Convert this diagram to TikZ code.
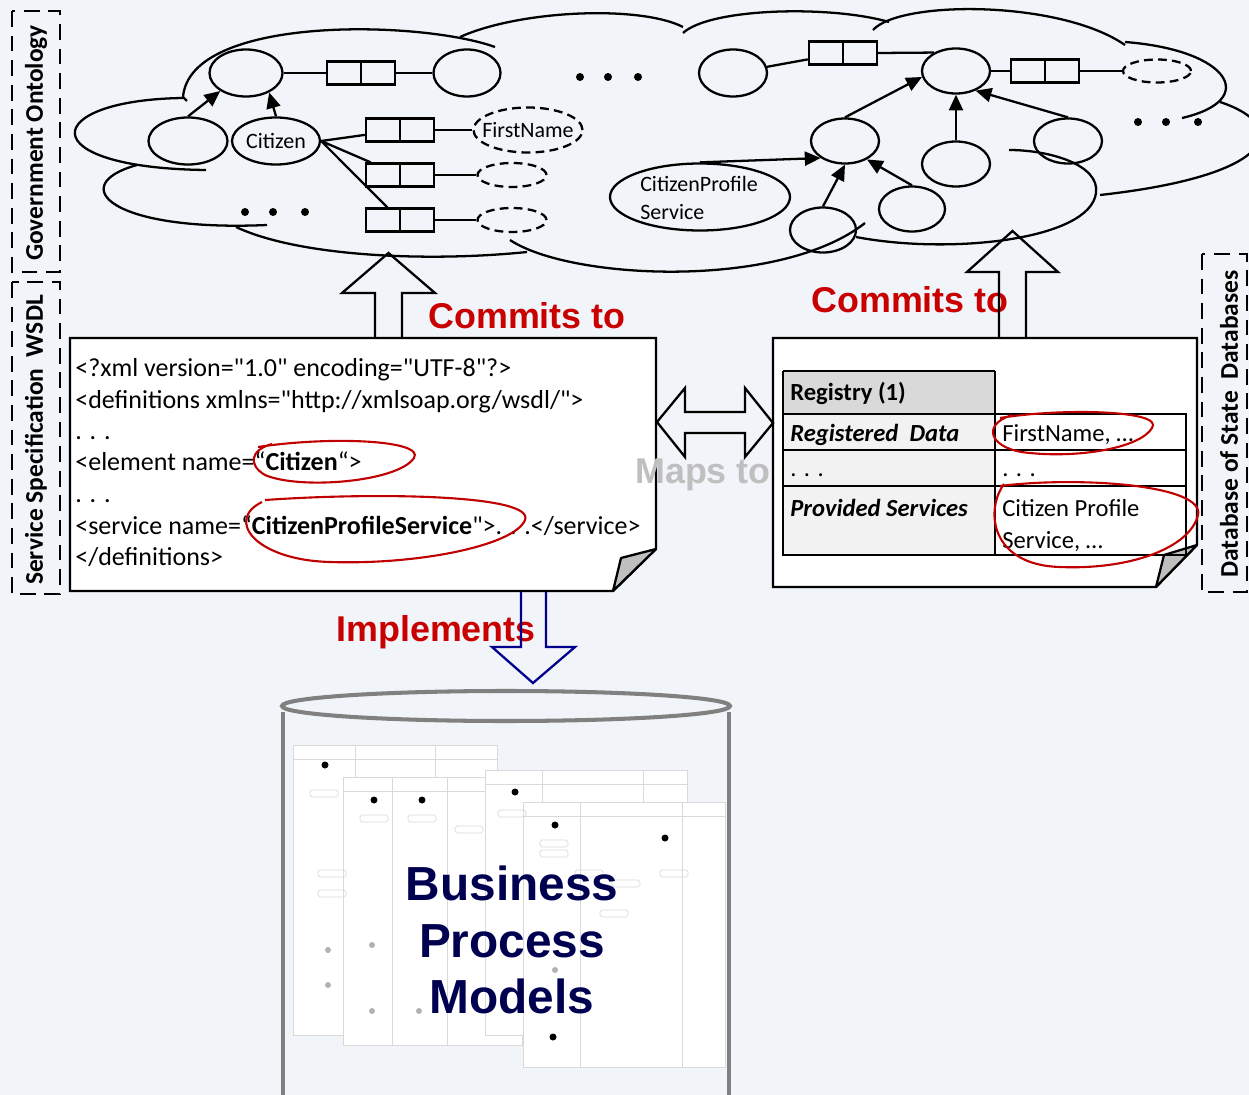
\documentclass[tikz,border=0pt]{standalone}
\usepackage{fontspec}
\setmainfont{Carlito}[Ligatures=TeXOff]
\newfontfamily\arialfont{Liberation Sans}
\usepackage{xcolor}
\usepackage{tikz}
\usetikzlibrary{positioning}
\usetikzlibrary{shapes.geometric, arrows.meta}

\definecolor{bgblue}{RGB}{241,244,248}
\definecolor{markred}{RGB}{192,0,0}
\definecolor{labelred}{RGB}{200,0,0}
\definecolor{implblue}{RGB}{0,0,140}
\definecolor{bpmblue}{RGB}{0,0,80}
\definecolor{mapsgray}{RGB}{191,191,191}

\begin{document}
\begin{tikzpicture}[x=0.02cm, y=-0.02cm,
  line/.style={line width=1.3pt},
  ell/.style 2 args={draw, ellipse, line width=1.3pt, inner sep=0pt,
    minimum width=#1*0.02cm, minimum height=#2*0.02cm},
  dell/.style 2 args={ell={#1}{#2}, dash pattern=on 5pt off 3pt},
  relbox/.style={draw, line width=1.3pt, inner sep=0pt,
    minimum width=1.36cm, minimum height=0.46cm},
  isa/.style={line width=1.3pt, -{Triangle[length=9pt,width=8pt]}},
  cloudtext/.style={inner sep=0pt, font=\fontsize{12.5}{15.9}\selectfont},
  codetext/.style={anchor=base west, inner sep=0pt, font=\fontsize{14.8}{17}\selectfont},
  tabtext/.style={anchor=base west, inner sep=0pt, font=\fontsize{14}{16}\selectfont},
  frame/.style={line width=1.5pt, dash pattern=on 9pt off 5pt},
  sidetext/.style={rotate=90, inner sep=0pt, font=\fontsize{14.5}{16}\selectfont\bfseries},
  bigarrow/.style={line width=1.3pt, line join=miter},
  redtext/.style={inner sep=0pt, text=labelred, font=\arialfont\bfseries\fontsize{20.4}{24}\selectfont},
  redloop/.style={draw=markred, line width=1.2pt},
  doc/.style={line width=1.3pt, fill=white},
  fold/.style={line width=1.3pt, fill=black!25, line join=round},
  cyl/.style={draw=black!50, line width=2.3pt},
  sheet/.style={draw=black!15, line width=0.4pt}]

  \useasboundingbox (0,0) rectangle (1249,1095);
  \fill[bgblue] (0,0) rectangle (1249,1095);
  \clip (0,0) rectangle (1249,1095);

  % side frames
  \draw[frame] (12,11) rectangle (60,272);
  \node[sidetext] (gov_label) at (36,143) {Government Ontology};
  \draw[frame] (12,282) rectangle (60,594);
  \node[sidetext] (wsdl_label) at (36,440) {Service Specification\ \ WSDL};
  \draw[frame] (1202,254) rectangle (1247,592);
  \node[sidetext] (db_label) at (1229,424) {Database of State\ \ Databases};

  % cloud
  \draw[line] (495,47) .. controls (420,20) and (190,15) .. (183,97) -- (187,101);
  \draw[line] (183,98) .. controls (40,100) and (30,168) .. (206,170);
  \draw[line] (137,165) .. controls (65,185) and (110,232) .. (267,225);
  \draw[line] (236,227) .. controls (300,257) and (430,262) .. (527,252);
  \draw[line] (510,240) .. controls (570,280) and (780,290) .. (865,223);
  \draw[line] (856,237) .. controls (950,255) and (1090,240) .. (1096,193)
                        .. controls (1100,165) and (1050,150) .. (1009,150);
  \draw[line] (1220,102) .. controls (1290,125) and (1280,175) .. (1100,195);
  \draw[line] (1125,42) .. controls (1230,50) and (1260,100) .. (1182,118);
  \draw[line] (873,30) .. controls (900,0) and (1060,0) .. (1125,45);
  \draw[line] (683,33) .. controls (710,8) and (830,5) .. (889,22);
  \draw[line] (460,37) .. controls (520,10) and (640,5) .. (683,27);

  \foreach \dx in {580,608,638} \fill (\dx,77) circle[radius=4];
  \foreach \dx in {245,273,305} \fill (\dx,212) circle[radius=4];
  \foreach \dx in {1138,1166,1198} \fill (\dx,122) circle[radius=4];

  % left part of the ontology
  \node[ell={73}{47}] (o1) at (246,73) {};
  \node[ell={67}{47}] (o2) at (467,73) {};
  \node[ell={79}{47}] (o3) at (188,141) {};
  \node[ell={88}{47}] (cit) at (276,141) {};
  \node[cloudtext] (cit_label) at (cit) {Citizen};
  \node[dell={109}{45}] (fn) at (528,130) {};
  \node[cloudtext] (fn_label) at (fn) {FirstName};
  \node[dell={69}{24}] (d1) at (512,175) {};
  \node[dell={69}{24}] (d2) at (512,220) {};
  \node[relbox] (r1) at (361,73) {};
  \node[relbox] (r2) at (400,130) {};
  \node[relbox] (r3) at (400,175) {};
  \node[relbox] (r4) at (400,220) {};

  % right part
  \node[ell={68}{47}] (o4) at (733,73) {};
  \node[relbox] (r5) at (843,53) {};
  \node[ell={68}{45}] (o5) at (956,71) {};
  \node[relbox] (r6) at (1045,71) {};
  \node[dell={68}{23}] (d3) at (1157,71) {};
  \node[ell={68}{45}] (o6) at (845,141) {};
  \node[ell={68}{45}] (o7) at (956,164) {};
  \node[ell={68}{45}] (o8) at (1068,141) {};
  \node[ell={180}{67}] (cps) at (700,197) {};
  \node[cloudtext, align=left] (cps_label) at (699,198) {CitizenProfile\\Service};
  \node[ell={66}{45}] (o9) at (912,209) {};
  \node[ell={66}{45}] (o10) at (823,230) {};

  \foreach \r in {r1,r2,r3,r4,r5,r6}
    \draw[line] (\r.north) -- (\r.south);

  \draw[line] (o1) -- (r1) -- (o2);
  \foreach \r/\e in {r2/fn, r3/d1, r4/d2} {
    \draw[line] (cit.east) -- (\r);
    \draw[line] (\r) -- (\e);
  }
  \draw[line] (o4) -- (r5);
  \draw[line] (r5.east) -- (o5.140);
  \draw[line] (o5) -- (r6) -- (d3);

  \draw[isa] (o3.north) -- (o1.215);
  \draw[isa] (cit.north) -- (o1.320);
  \draw[isa] (o6.north) -- (o5.190);
  \draw[isa] (o7.north) -- (o5.south);
  \draw[isa] (o8.north) -- (o5.315);
  \draw[isa] (cps.north) -- (o6.215);
  \draw[isa] (o9.north) -- (o6.320);
  \draw[isa] (o10.north) -- (o6.south);

  % wsdl document
  \draw[doc] (70,338) -- (656,338) -- (656,549) -- (613,591) -- (70,591) -- cycle;
  \draw[fold] (656,549) -- (621,558) -- (613,591) -- cycle;
  \node[codetext] (xml_1) at (75,377) {<?xml version="1.0" encoding="UTF-8"?>};
  \node[codetext] (xml_2) at (75,408) {<definitions xmlns="http://xmlsoap.org/wsdl/">};
  \node[codetext] (xml_3) at (75,439) {. . .};
  \node[codetext] (xml_4) at (75,470) {<element name=“\textbf{Citizen}“>};
  \node[codetext] (xml_5) at (75,502) {. . .};
  \node[codetext] (xml_6) at (75,534) {<service name=“\textbf{CitizenProfileService}">. . .</service>};
  \node[codetext] (xml_7) at (75,565) {</definitions>};

  \draw[redloop] (258,447) .. controls (330,436) and (425,440) .. (414,458)
                 .. controls (398,482) and (300,490) .. (265,475)
                 .. controls (248,465) and (250,450) .. (272,444);
  \draw[redloop] (265,500) .. controls (380,492) and (535,495) .. (525,520)
                 .. controls (515,545) and (420,565) .. (330,562)
                 .. controls (255,560) and (225,520) .. (262,502);

  % registry document
  \draw[doc] (773,338) -- (1197,338) -- (1197,545) -- (1156,587) -- (773,587) -- cycle;
  \draw[fold] (1197,545) -- (1164,555) -- (1156,587) -- cycle;
  \fill[black!15] (783,371) rectangle (995,414);
  \fill[black!5] (783,414) rectangle (995,555);
  \draw[line] (783,371) -- (995,371);
  \draw[line] (783,371) -- (783,555) -- (1186,555) -- (1186,414) -- (783,414);
  \draw[line] (995,371) -- (995,555);
  \draw[line] (783,450) -- (1186,450);
  \draw[line] (783,486) -- (1186,486);
  \node[tabtext, font=\fontsize{14}{16}\selectfont\bfseries] (reg_head) at (790,400) {Registry (1)};
  \node[tabtext, font=\fontsize{14}{16}\selectfont\bfseries\itshape] (reg_data) at (790,441) {Registered\ \ Data};
  \node[tabtext] (reg_dots) at (790,476) {. . .};
  \node[tabtext, font=\fontsize{14}{16}\selectfont\bfseries\itshape] (reg_serv) at (790,516) {Provided Services};
  \node[tabtext] (val_data) at (1002,441) {FirstName, …};
  \node[tabtext] (val_dots) at (1002,476) {. . .};
  \node[tabtext] (val_serv1) at (1002,516) {Citizen Profile};
  \node[tabtext] (val_serv2) at (1002,548) {Service, …};

  \draw[redloop] (1000,418) .. controls (1060,408) and (1165,410) .. (1152,428)
                 .. controls (1140,448) and (1080,458) .. (1030,453)
                 .. controls (990,450) and (980,425) .. (1012,415);
  \draw[redloop] (1000,486) .. controls (1080,476) and (1205,485) .. (1198,515)
                 .. controls (1190,548) and (1130,570) .. (1060,567)
                 .. controls (990,565) and (985,510) .. (1004,484);

  % labels and block arrows
  \node[redtext] (commit_l) at (527,316) {Commits to};
  \node[redtext] (commit_r) at (910,300) {Commits to};
  \node[redtext] (impl) at (436,632) {Implements};
  \node[redtext, text=mapsgray] (maps) at (703,475) {Maps to};

  \coordinate (commit_l_base) at (375,338);
  \draw[bigarrow] (commit_l_base) -- ++(0,-45) -- ++(-33,0) -- ++(46.5,-40)
                  -- ++(46.5,40) -- ++(-33,0) -- ++(0,45);
  \coordinate (commit_r_base) at (999,337);
  \draw[bigarrow] (commit_r_base) -- ++(0,-65) -- ++(-32,0) -- ++(45.5,-41)
                  -- ++(45.5,41) -- ++(-32,0) -- ++(0,65);
  \coordinate (maps_tip) at (657,422);
  \draw[bigarrow] (maps_tip) -- ++(28,-34) -- ++(0,24) -- ++(60,0) -- ++(0,-24)
                  -- ++(28,35) -- ++(-28,34) -- ++(0,-24) -- ++(-60,0) -- ++(0,24) -- cycle;
  \coordinate (impl_base) at (521,592);
  \draw[bigarrow, draw=implblue] (impl_base) -- ++(0,55) -- ++(-29,0) -- ++(41,36)
                  -- ++(42,-36) -- ++(-29,0) -- ++(0,-55);

  % business process models
  \draw[cyl] (283,712) -- (283,1100);
  \draw[cyl] (729,712) -- (729,1100);
  \draw[cyl] (506,706) ellipse [x radius=224, y radius=15];

  \foreach \sx/\sy/\sw/\sh/\ca/\cb in {293/745/204/290/62/142, 343/777/179/268/49/104,
                                       485/770/202/265/57/158, 523/802/202/265/57/159} {
    \draw[sheet, fill=white] (\sx,\sy) rectangle ++(\sw,\sh);
    \draw[sheet] (\sx,\sy+14) -- ++(\sw,0);
    \draw[sheet] (\sx+\ca,\sy) -- ++(0,\sh);
    \draw[sheet] (\sx+\cb,\sy) -- ++(0,\sh);
  }
  \foreach \bx/\by in {310/790, 360/815, 408/815, 455/826, 498/810, 540/840, 575/870,
                       612/880, 660/870, 318/870, 318/890, 540/850, 600/910}
    \draw[sheet, rounded corners=1] (\bx,\by) rectangle ++(28,7);
  \foreach \dx/\dy in {325/765, 374/800, 422/800, 515/792, 555/825, 665/838, 553/1037}
    \fill (\dx,\dy) circle[radius=3.5];
  \foreach \dx/\dy in {328/950, 328/985, 372/945, 372/1011, 419/1011, 555/970}
    \fill[black!30] (\dx,\dy) circle[radius=3];

  \node[align=center, inner sep=0pt, text=bpmblue,
        font=\arialfont\bfseries\fontsize{27.2}{32.3}\selectfont] (bpm) at (512,940)
        {Business\\Process\\Models};

\end{tikzpicture}
\end{document}
